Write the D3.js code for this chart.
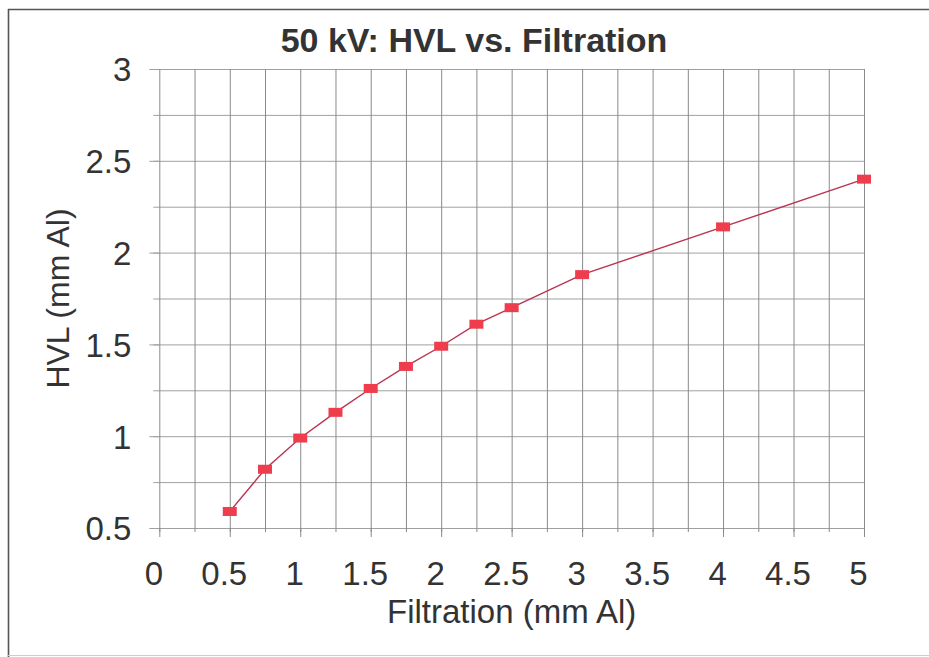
<!DOCTYPE html>
<html>
<head>
<meta charset="utf-8">
<script src="https://cdn.jsdelivr.net/npm/d3@7"></script>
<style>
  html, body { margin: 0; padding: 0; background: #fff; }
  svg { display: block; }
  text { font-family: "Liberation Sans", Arial, Helvetica, sans-serif; fill: #333; }
</style>
</head>
<body>
<svg id="chart" width="929" height="657"></svg>
<script>
// ---- data ----
const title = "50 kV: HVL vs. Filtration";
const xTitle = "Filtration (mm Al)";
const yTitle = "HVL (mm Al)";
const filtration = [0.5, 0.75, 1, 1.25, 1.5, 1.75, 2, 2.25, 2.5, 3, 4, 5];
const hvl = [0.59, 0.82, 0.99, 1.13, 1.26, 1.38, 1.49, 1.61, 1.70, 1.88, 2.14, 2.40];
const xMajorTicks = [0, 0.5, 1, 1.5, 2, 2.5, 3, 3.5, 4, 4.5, 5];
const xMinorTicks = [0, 0.25, 0.5, 0.75, 1, 1.25, 1.5, 1.75, 2, 2.25, 2.5, 2.75, 3, 3.25, 3.5, 3.75, 4, 4.25, 4.5, 4.75, 5];
const yMajorTicks = [0.5, 1, 1.5, 2, 2.5, 3];
const yMinorTicks = [0.5, 0.75, 1, 1.25, 1.5, 1.75, 2, 2.25, 2.5, 2.75, 3];

(function () {
const svg = d3.select("#chart");
const pL = 159.3, pR = 864, pT = 69, pB = 528;

const x = d3.scaleLinear().domain([0, 5]).range([pL, pR]);
const y = d3.scaleLinear().domain([0.5, 3]).range([pB, pT]);

// outer frame
svg.append("line").attr("x1", 8).attr("y1", 9.5).attr("x2", 929).attr("y2", 9.5)
  .attr("stroke", "#555").attr("stroke-width", 1.6);
svg.append("line").attr("x1", 8.5).attr("y1", 9).attr("x2", 8.5).attr("y2", 657)
  .attr("stroke", "#555").attr("stroke-width", 1.6);
svg.append("line").attr("x1", 8).attr("y1", 655.5).attr("x2", 929).attr("y2", 655.5)
  .attr("stroke", "#ccc").attr("stroke-width", 1);

// horizontal grid
const yGrid = svg.append("g").attr("transform", `translate(${pL},0)`)
  .call(d3.axisLeft(y).tickValues(yMinorTicks).tickSizeInner(-(pR - pL)).tickSizeOuter(0).tickFormat(""));
yGrid.select(".domain").remove();
yGrid.selectAll("line").attr("stroke", "#a0a0a0").attr("stroke-width", 1);

const yMinor = svg.append("g").attr("transform", `translate(${pL},0)`)
  .call(d3.axisLeft(y).tickValues(yMinorTicks).tickSize(6).tickFormat(""));
yMinor.select(".domain").remove();
yMinor.selectAll("line").attr("stroke", "#a0a0a0");

const yMajor = svg.append("g").attr("transform", `translate(${pL},0)`)
  .call(d3.axisLeft(y).tickValues(yMajorTicks).tickSize(10).tickPadding(18).tickFormat(d3.format("")));
yMajor.select(".domain").remove();
yMajor.selectAll("line").attr("stroke", "#a0a0a0");
yMajor.selectAll("text").style("font-size", "33px").attr("fill", "#333")
  .style("font-family", "'Liberation Sans', Arial, sans-serif").attr("dy", "0.36em");

// vertical grid
const xGrid = svg.append("g").attr("transform", `translate(0,${pB})`)
  .call(d3.axisBottom(x).tickValues(xMinorTicks).tickSizeInner(-(pB - pT)).tickSizeOuter(0).tickFormat(""));
xGrid.select(".domain").attr("stroke", "#a0a0a0");
xGrid.selectAll("line").attr("stroke", "#8a8a8a").attr("stroke-width", 1);

const xMinor = svg.append("g").attr("transform", `translate(0,${pB})`)
  .call(d3.axisBottom(x).tickValues(xMinorTicks).tickSize(4).tickFormat(""));
xMinor.select(".domain").remove();
xMinor.selectAll("line").attr("stroke", "#8a8a8a");

const xMajor = svg.append("g").attr("transform", `translate(0,${pB})`)
  .call(d3.axisBottom(x).tickValues(xMajorTicks).tickSize(9).tickPadding(0).tickFormat(d3.format("")));
xMajor.select(".domain").remove();
xMajor.selectAll("line").attr("stroke", "#8a8a8a");
xMajor.selectAll("text").style("font-size", "33px").attr("fill", "#333")
  .style("font-family", "'Liberation Sans', Arial, sans-serif")
  .attr("dy", null).attr("y", 57).attr("dx", -6);

// line
const pts = filtration.map((f, i) => [f, hvl[i]]);
svg.append("path").datum(pts)
  .attr("fill", "none").attr("stroke", "#b8344f").attr("stroke-width", 1.4)
  .attr("d", d3.line().x(d => x(d[0])).y(d => y(d[1])));

// markers
svg.append("g").selectAll("rect").data(pts).join("rect")
  .attr("x", d => x(d[0]) - 7).attr("y", d => y(d[1]) - 4.5)
  .attr("width", 14).attr("height", 9)
  .attr("fill", "#ee3d4d");

// titles
svg.append("text").attr("x", 474).attr("y", 52).attr("text-anchor", "middle")
  .style("font-size", "34px").style("font-weight", "bold").text(title);
svg.append("text").attr("x", (pL + pR) / 2).attr("y", 623).attr("text-anchor", "middle")
  .style("font-size", "33px").text(xTitle);
svg.append("text").attr("transform", `translate(69,${(pT + pB) / 2}) rotate(-90)`)
  .attr("text-anchor", "middle").style("font-size", "32px").text(yTitle);
})();
</script>
</body>
</html>
